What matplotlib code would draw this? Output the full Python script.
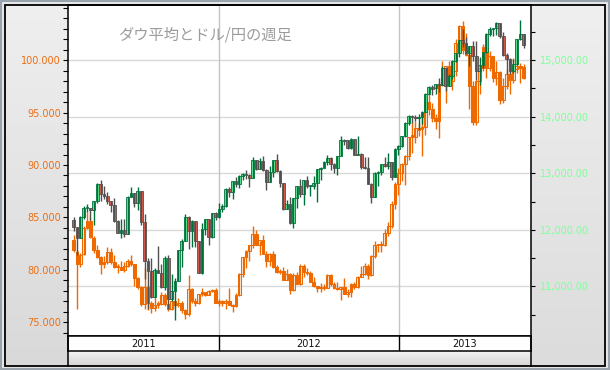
import numpy as np
import matplotlib.pyplot as plt
import matplotlib.colors as mcolors
from matplotlib.patches import Rectangle
from matplotlib.lines import Line2D
from matplotlib.ticker import MultipleLocator, FixedLocator, FuncFormatter

plt.rcParams['font.family'] = ['DejaVu Sans']

title = "ダウ平均とドル/円の週足"
years = ["2011", "2012", "2013"]

# weekly candles, week ending 2011-03-11 .. 2013-09-27
# --- Dow Jones (right axis) ---
dow_open = [
    12170, 12044, 11858, 12221, 12377, 12380, 12342, 12505, 12811, 12638, 12596, 12512, 12441, 12151, 11952,
    12004, 11934, 12582, 12657, 12479, 12681, 12143, 11444, 11269, 10817, 11284, 11240, 10992, 11509, 10771,
    10913, 11103, 11644, 11809, 12231, 11983, 12153, 11796, 11231, 12019, 12184, 11867, 12294,
    12218, 12360, 12422, 12720, 12660, 12862, 12801, 12950, 12983, 12977, 12922, 13232, 13081, 13212, 13060,
    12850, 13029, 13228, 13038, 12821, 12369, 12455, 12119, 12554, 12767, 12640, 12880, 12772, 12777, 12822,
    13075, 13096, 13207, 13275, 13157, 13090, 13306, 13593, 13579, 13437, 13610, 13328, 13343, 13107, 13093,
    12815, 12588, 13010, 13026, 13155, 13135, 13190,
    12938, 13435, 13488, 13650, 13895, 14010, 13993, 13982, 14001, 14090, 14397, 14515, 14512, 14579, 14565,
    14865, 14548, 14713, 14974, 15118, 15355, 15303, 15116, 15248, 15071, 14800, 14910, 15136, 15464, 15544,
    15559, 15658, 15425, 15081, 15010, 14810, 14922, 15376, 15452]
dow_high = [
    12235, 12044, 12247, 12420, 12450, 12391, 12505, 12830, 12876, 12781, 12662, 12512, 12570, 12180, 12190,
    12190, 12590, 12753, 12657, 12751, 12681, 12284, 11500, 11500, 11320, 11716, 11400, 11545, 11550, 11226,
    11148, 11650, 11830, 12284, 12240, 12170, 12160, 11810, 12120, 12200, 12184, 12300, 12320,
    12479, 12462, 12736, 12760, 12870, 12930, 12960, 13005, 13052, 12990, 13289, 13239, 13265, 13297, 13080,
    13132, 13240, 13338, 13050, 12830, 12532, 12580, 12560, 12778, 12898, 12885, 12943, 12790, 12943, 13080,
    13116, 13214, 13330, 13290, 13179, 13310, 13653, 13600, 13590, 13620, 13610, 13661, 13350, 13290, 13290,
    12830, 13015, 13046, 13166, 13290, 13350, 13200,
    13440, 13500, 13660, 13900, 14020, 14020, 14020, 14040, 14100, 14413, 14539, 14563, 14585, 14684, 14888,
    14870, 14757, 15009, 15123, 15360, 15542, 15409, 15255, 15337, 15340, 15050, 15140, 15483, 15590, 15567,
    15665, 15660, 15500, 15120, 15040, 15020, 15380, 15709, 15460]
dow_low = [
    11974, 11555, 11850, 12183, 12319, 12169, 12093, 12473, 12517, 12546, 12451, 12320, 12138, 11943, 11862,
    11874, 11920, 12575, 12395, 12347, 12086, 11139, 10604, 10800, 10800, 11230, 10980, 10934, 10597, 10750,
    10404, 11090, 11339, 11800, 11658, 11697, 11700, 11230, 11220, 11917, 11735, 11860, 12180,
    12210, 12309, 12410, 12582, 12553, 12748, 12739, 12876, 12899, 12759, 12910, 13057, 13070, 13039, 12710,
    12840, 12926, 13030, 12764, 12355, 12360, 12101, 12035, 12389, 12574, 12446, 12736, 12592, 12726, 12492,
    12878, 13090, 13152, 13057, 13000, 12977, 13300, 13503, 13425, 13430, 13325, 13320, 13076, 13082, 12810,
    12471, 12580, 12770, 12960, 13118, 13070, 12884,
    12930, 13328, 13466, 13640, 13860, 13880, 13930, 13784, 13861, 14080, 14390, 14381, 14395, 14430, 14555,
    14444, 14540, 14660, 14960, 15058, 15229, 15110, 14902, 14990, 14640, 14551, 14860, 15130, 15425, 15420,
    15450, 15390, 15064, 14760, 14760, 14777, 14915, 15355, 15213]
dow_close = [
    12044, 11858, 12221, 12377, 12380, 12342, 12505, 12811, 12638, 12596, 12512, 12441, 12151, 11952, 12004,
    11934, 12582, 12657, 12479, 12681, 12143, 11444, 11269, 10817, 11284, 11240, 10992, 11509, 10771, 10913,
    11103, 11644, 11809, 12231, 11983, 12153, 11796, 11231, 12019, 12184, 11867, 12294, 12218,
    12360, 12422, 12720, 12660, 12862, 12801, 12950, 12983, 12977, 12922, 13232, 13081, 13212, 13060, 12850,
    13029, 13228, 13038, 12821, 12369, 12455, 12119, 12554, 12767, 12640, 12880, 12772, 12777, 12822, 13075,
    13096, 13207, 13275, 13157, 13090, 13306, 13593, 13579, 13437, 13610, 13328, 13343, 13107, 13093, 12815,
    12588, 13010, 13026, 13155, 13135, 13190, 12938,
    13435, 13488, 13650, 13895, 14010, 13993, 13982, 14001, 14090, 14397, 14515, 14512, 14579, 14565, 14865,
    14548, 14713, 14974, 15118, 15355, 15303, 15116, 15248, 15071, 14800, 14910, 15136, 15464, 15544, 15559,
    15658, 15425, 15081, 15010, 14810, 14922, 15376, 15452, 15258]

# --- USD/JPY (left axis) ---
jpy_open = [
    82.9, 81.7, 80.6, 81.5, 84.0, 84.7, 83.0, 81.9, 81.2, 80.6, 80.8, 81.7, 80.8, 80.3, 80.3,
    80.0, 80.4, 80.9, 80.6, 79.2, 78.4, 76.8, 78.4, 76.9, 76.4, 76.7, 76.8, 77.6, 76.8, 76.3,
    77.0, 76.7, 76.9, 76.2, 75.8, 78.2, 77.0, 76.9, 77.7, 77.9, 77.6, 78.0, 78.1,
    76.9, 77.0, 76.9, 77.0, 76.7, 76.6, 77.6, 79.6, 81.2, 81.8, 82.4, 83.4, 82.4, 82.9, 81.5,
    80.9, 81.5, 80.3, 79.8, 79.9, 79.0, 79.6, 78.1, 79.5, 78.7, 80.4, 79.8, 79.7, 78.9, 78.5,
    78.3, 78.4, 78.3, 79.5, 78.7, 78.3, 78.2, 78.4, 77.7, 77.9, 78.7, 78.4, 79.3, 79.6, 80.4,
    79.5, 81.3, 82.4, 82.4, 82.4, 83.5, 84.2,
    86.3, 88.2, 89.2, 90.1, 90.9, 92.7, 92.7, 93.5, 93.4, 93.6, 96.0, 95.3, 94.5, 94.2, 97.6,
    98.4, 99.4, 98.0, 99.0, 101.6, 103.2, 101.0, 100.5, 97.5, 94.1, 98.0, 99.2, 101.2, 99.2, 100.4,
    98.3, 98.9, 96.2, 97.5, 98.7, 98.1, 99.1, 99.4, 99.3]
jpy_high = [
    83.3, 81.9, 81.6, 84.2, 85.5, 85.0, 83.2, 82.4, 81.3, 81.3, 82.2, 82.1, 81.4, 80.6, 80.9,
    80.8, 81.0, 81.4, 80.6, 79.3, 78.5, 80.2, 78.6, 77.0, 77.3, 77.0, 77.9, 77.8, 76.9, 77.0,
    77.0, 77.3, 77.0, 76.3, 79.55, 78.3, 77.3, 77.7, 78.3, 77.9, 78.1, 78.2, 78.3,
    77.2, 77.1, 77.2, 78.3, 76.8, 77.8, 79.7, 81.2, 81.9, 82.4, 84.2, 83.8, 82.8, 83.3, 81.8,
    81.6, 81.8, 80.5, 80.1, 80.3, 80.1, 79.7, 79.7, 79.8, 80.6, 80.6, 80.2, 79.9, 79.3, 78.5,
    78.8, 78.7, 79.6, 79.6, 78.9, 78.9, 78.4, 79.2, 78.2, 78.8, 78.9, 79.4, 80.4, 80.7, 80.6,
    81.4, 82.8, 82.5, 82.8, 83.9, 84.6, 86.6,
    88.4, 89.7, 90.2, 91.0, 92.7, 94.1, 94.2, 94.0, 94.8, 96.6, 96.7, 95.9, 94.9, 97.9, 99.9,
    99.0, 99.9, 99.2, 102.0, 103.3, 103.7, 102.6, 100.9, 98.0, 98.1, 99.2, 101.5, 101.5, 100.9, 100.4,
    99.9, 99.0, 98.3, 99.1, 99.1, 100.2, 100.6, 99.7, 99.6]
jpy_low = [
    81.7, 76.25, 80.3, 81.4, 83.9, 83.0, 81.6, 81.1, 79.6, 80.2, 80.6, 80.6, 80.2, 79.7, 80.0,
    79.8, 80.3, 80.4, 78.5, 78.2, 76.6, 76.3, 76.2, 75.9, 76.1, 76.4, 76.7, 76.6, 76.1, 76.2,
    76.4, 76.5, 75.9, 75.35, 75.6, 76.9, 76.6, 76.8, 77.5, 77.5, 77.6, 77.9, 76.9,
    76.6, 76.6, 76.3, 76.7, 76.0, 76.5, 77.5, 79.3, 80.2, 80.9, 82.1, 82.4, 81.4, 81.5, 80.3,
    80.4, 80.2, 79.7, 79.6, 79.0, 79.0, 77.7, 78.0, 78.8, 78.6, 79.3, 79.5, 78.9, 78.4, 77.9,
    77.9, 78.1, 78.3, 78.5, 78.2, 78.1, 77.1, 77.8, 77.4, 77.4, 78.2, 78.3, 79.3, 79.5, 79.1,
    79.4, 81.1, 81.7, 81.7, 82.3, 83.2, 84.0,
    85.8, 87.1, 88.5, 88.1, 90.5, 91.1, 92.1, 92.8, 90.9, 92.9, 94.8, 94.1, 93.4, 92.6, 97.5,
    95.9, 97.6, 97.1, 98.5, 101.1, 100.6, 100.4, 95.3, 93.8, 93.8, 96.8, 99.0, 98.3, 99.0, 97.9,
    97.6, 95.8, 95.9, 97.2, 96.8, 97.8, 98.8, 97.8, 98.2]
jpy_close = [
    81.9, 80.6, 81.4, 84.0, 84.7, 83.1, 81.9, 81.2, 80.6, 80.8, 81.7, 80.8, 80.3, 80.3, 80.0,
    80.4, 80.9, 80.6, 79.2, 78.4, 76.8, 78.4, 76.9, 76.4, 76.7, 76.8, 77.6, 76.8, 76.3, 77.0,
    76.7, 76.9, 76.2, 75.8, 78.2, 77.0, 76.9, 77.7, 77.9, 77.6, 78.0, 78.1, 76.9,
    77.0, 76.9, 77.0, 76.7, 76.6, 77.6, 79.6, 81.2, 81.8, 82.4, 83.4, 82.4, 82.9, 81.5, 80.9,
    81.5, 80.3, 79.8, 79.9, 79.0, 79.6, 78.1, 79.5, 78.7, 80.4, 79.8, 79.7, 78.9, 78.5, 78.3,
    78.4, 78.3, 79.5, 78.7, 78.3, 78.2, 78.4, 77.7, 77.9, 78.7, 78.4, 79.3, 79.6, 80.4, 79.5,
    81.3, 82.4, 82.4, 82.4, 83.5, 84.2, 86.3,
    88.2, 89.2, 90.1, 90.9, 92.7, 92.7, 93.5, 93.4, 93.6, 96.0, 95.3, 94.5, 94.2, 97.6, 98.4,
    99.4, 98.0, 99.0, 101.6, 103.2, 101.0, 100.5, 97.5, 94.1, 98.0, 99.2, 101.2, 99.2, 100.4, 98.3,
    98.9, 96.2, 97.5, 98.7, 98.1, 99.1, 99.4, 99.3, 98.3]

jpy_ticks = [75, 80, 85, 90, 95, 100]
dow_ticks = [11000, 12000, 13000, 14000, 15000]

W, H = 610, 370
fig = plt.figure(figsize=(W / 100, H / 100), dpi=100)
fig.patch.set_facecolor('white')


def px(l, t, r, b):
    return [l / W, 1 - b / H, (r - l) / W, (b - t) / H]


def gradient(rect, c_top, c_bot, z=0):
    a = fig.add_axes(px(*rect), zorder=z)
    g = np.linspace(0, 1, 64)[:, None, None]
    img = np.array(mcolors.to_rgb(c_top)) * (1 - g) + np.array(mcolors.to_rgb(c_bot)) * g
    a.imshow(np.repeat(img, 2, axis=1), aspect='auto', extent=[0, 1, 0, 1])
    a.set_axis_off()
    return a


# outer frame and grey side panels
fig.patches.append(Rectangle((1 / W, 1 / H), 1 - 2 / W, 1 - 2 / H, transform=fig.transFigure,
                             facecolor='#e6e8ea', edgecolor='#9aa3ab', lw=1.5, zorder=-5))
gradient((5, 4.5, 68, 366), '#efefef', '#d9d9d9')
gradient((531, 4.5, 604.5, 366), '#efefef', '#dcdcdc')
gradient((68, 351, 531, 366), '#f4f4f4', '#d4d4d4')
fig.patches.append(Rectangle((5 / W, 1 - 366 / H), 599.5 / W, 361.5 / H, transform=fig.transFigure,
                             facecolor='none', edgecolor='black', lw=1.3, zorder=10))
for xp in (68, 531):
    fig.lines.append(Line2D([xp / W, xp / W], [1 - 366 / H, 1 - 336 / H], transform=fig.transFigure,
                            color='black', lw=1.1, zorder=10))

n = len(dow_open)
xs = np.arange(n)
xlim = (-1.63, 135.2)
year_edges = [xlim[0], 43.1, 96.1, xlim[1]]

ax = fig.add_axes(px(68, 4.5, 531, 336), zorder=2)
ax.set_facecolor('white')
ax.set_xlim(*xlim)
ax.set_ylim(10124, 15981)
ax.set_xticks([])
ax.grid(axis='y', color='#d9d9d9', lw=1)
for e in year_edges[1:-1]:
    ax.axvline(e, color='#c4c4c4', lw=1)
for s in ax.spines.values():
    s.set_linewidth(1.1)

axj = ax.twinx()
axd = ax.twinx()

# Dow scale ticks on the right
ax.yaxis.tick_right()
ax.yaxis.set_major_locator(FixedLocator(dow_ticks))
ax.yaxis.set_minor_locator(MultipleLocator(500))
ax.yaxis.set_major_formatter(FuncFormatter(lambda v, p: f"{v:,.2f}"))
ax.tick_params(axis='y', which='both', direction='out', length=3, width=0.8, color='black',
               labelsize=7, labelcolor='#80ff9a', pad=3.5, left=False, labelleft=False,
               right=True, labelright=True)

# yen scale ticks on the left
axj.set_zorder(3)
axj.patch.set_visible(False)
axj.set_ylim(73.71, 105.29)
axj.yaxis.tick_left()
axj.yaxis.set_major_locator(FixedLocator(jpy_ticks))
axj.yaxis.set_minor_locator(MultipleLocator(1))
axj.yaxis.set_major_formatter(FuncFormatter(lambda v, p: f"{v:.3f}"))
axj.tick_params(axis='y', which='both', direction='out', length=3.6, width=0.8, color='black',
                labelsize=7, labelcolor='#ec6e12', pad=1.5)

axd.set_zorder(4)
axd.patch.set_visible(False)
axd.set_ylim(ax.get_ylim())
axd.set_yticks([])
axd.tick_params(axis='y', which='both', right=False, left=False)
for a in (axj, axd):
    a.set_xlim(*xlim)
    a.set_xticks([])
    for s in a.spines.values():
        s.set_visible(False)


def candles(a, o, h, l, c, up_face, up_edge, dn_face, dn_edge, up_wick, dn_wick, min_h, lw):
    o, h, l, c = map(np.asarray, (o, h, l, c))
    up = c >= o
    body = c - o
    body = np.where(np.abs(body) < min_h, np.where(up, min_h, -min_h), body)
    a.vlines(xs[up], l[up], h[up], color=up_wick, lw=1)
    a.vlines(xs[~up], l[~up], h[~up], color=dn_wick, lw=1)
    a.bar(xs[up], body[up], bottom=o[up], width=0.82, facecolor=up_face, edgecolor=up_edge, lw=lw)
    a.bar(xs[~up], body[~up], bottom=o[~up], width=0.82, facecolor=dn_face, edgecolor=dn_edge, lw=lw)


candles(axj, jpy_open, jpy_high, jpy_low, jpy_close,
        'white', '#ee6a00', '#ee6a00', '#ee6a00', '#ee6a00', '#ee6a00', 0.12, 0.75)
candles(axd, dow_open, dow_high, dow_low, dow_close,
        '#6cf79c', '#00703a', '#f05a4a', '#505050', '#00703a', '#505050', 20, 0.6)

# year band
axy = fig.add_axes(px(68, 336, 531, 351), zorder=2)
axy.set_facecolor('white')
axy.set_xlim(*xlim)
axy.set_ylim(0, 1)
axy.set_xticks([])
axy.set_yticks([])
for s in axy.spines.values():
    s.set_linewidth(1.1)
for i, y in enumerate(years):
    if i > 0:
        axy.axvline(year_edges[i], color='black', lw=1)
    axy.text((year_edges[i] + year_edges[i + 1]) / 2, 0.45, y, ha='center', va='center',
             fontsize=7, color='#111111')

fig.text(118 / W, 1 - 35 / H, title, fontsize=11, color='#9c9c9c', va='center', ha='left',
         family=['Noto Sans CJK JP', 'DejaVu Sans'], zorder=20)

fig.savefig('out.png', dpi=100)
